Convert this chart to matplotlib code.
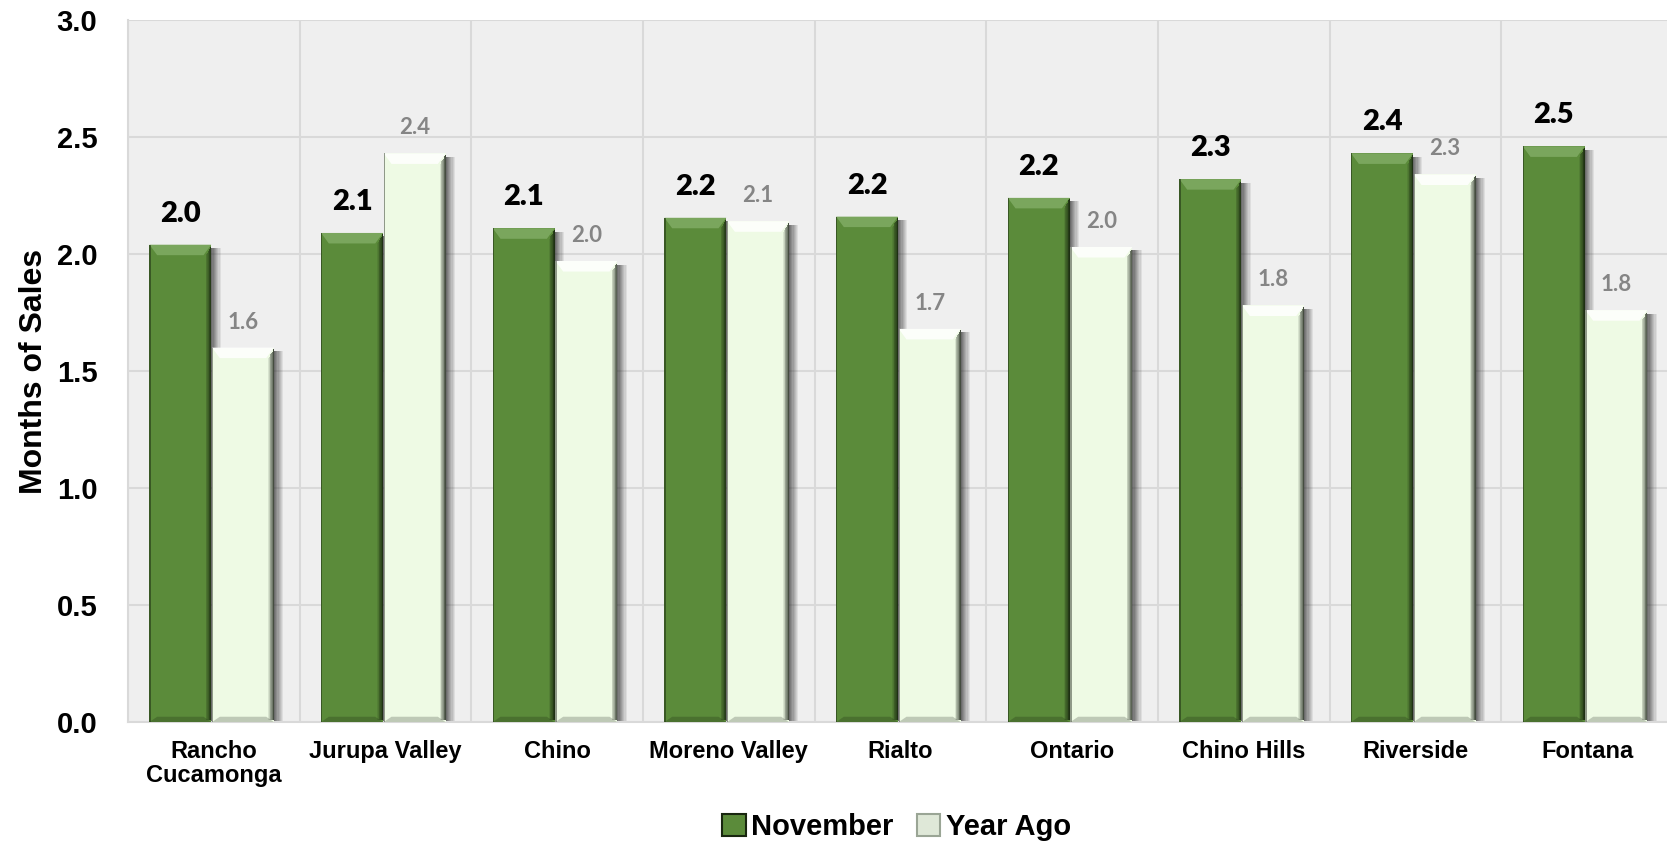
import numpy as np
import matplotlib
matplotlib.use("Agg")
import matplotlib.pyplot as plt
from matplotlib.patches import Polygon, Rectangle, Patch

# data
cities = ["Rancho\nCucamonga", "Jurupa Valley", "Chino", "Moreno Valley", "Rialto",
          "Ontario", "Chino Hills", "Riverside", "Fontana"]
november = [2.04, 2.09, 2.11, 2.155, 2.16, 2.24, 2.32, 2.43, 2.46]
year_ago = [1.60, 2.43, 1.97, 2.14, 1.68, 2.03, 1.78, 2.34, 1.76]
yticks = [0.0, 0.5, 1.0, 1.5, 2.0, 2.5, 3.0]

GREEN = "#5b8b3a"
GREEN_TOP = "#80ab64"
GREEN_DARK = "#18260f"
LIGHT = "#eefae4"
LIGHT_TOP = "#ffffff"
LIGHT_DARK = "#323a2e"
BG = "#efefef"
GRID = "#d9d9d9"

fig = plt.figure(figsize=(16.67, 8.46), dpi=100)
ax = fig.add_axes([128/1667, 124/846, 1545/1667, 702/846])
ax.set_facecolor(BG)

x = np.arange(len(cities))
w = 0.36


def bevel(bars, top, dark):
    # fake the excel bevel: lit top face, dark right edge, soft shadow
    dx, dy = 0.045, 0.045
    for b in bars:
        x0 = b.get_x()
        x1 = x0 + b.get_width()
        h = b.get_height()
        ax.add_patch(Polygon([(x0, h), (x1, h), (x1 - dx, h - dy), (x0 + dx, h - dy)],
                             closed=True, facecolor=top, edgecolor="none", alpha=0.85, zorder=4))
        n = 8
        # dark gradient inside the right edge
        for k in range(n):
            xs = x1 - 0.032 * (k + 1) / n
            ax.add_patch(Rectangle((xs, 0.01), 0.032 / n, h - 0.01 - dy * (k + 1) / n,
                                   facecolor=dark, edgecolor="none",
                                   alpha=0.9 * (n - k) / n, zorder=4))
        # soft shadow outside the right edge
        for k in range(n):
            xs = x1 + 0.055 * k / n
            ax.add_patch(Rectangle((xs, 0), 0.055 / n, h - 0.015,
                                   facecolor="#333333", edgecolor="none",
                                   alpha=0.7 * (n - k) / n, zorder=2.5))
        # thin left edge
        ax.add_patch(Rectangle((x0, 0), 0.007, h, facecolor=dark, edgecolor="none",
                               alpha=0.5, zorder=4))
        # bottom bevel
        ax.add_patch(Polygon([(x0, 0), (x1, 0), (x1 - dx, dy * 0.5), (x0 + dx, dy * 0.5)],
                             closed=True, facecolor=dark, edgecolor="none", alpha=0.25, zorder=4))


b1 = ax.bar(x - 0.195, november, w, color=GREEN, zorder=3)
b2 = ax.bar(x + 0.17, year_ago, w, color=LIGHT, zorder=3.2)
bevel(b1, GREEN_TOP, GREEN_DARK)
bevel(b2, LIGHT_TOP, LIGHT_DARK)

for b, v in zip(b1, november):
    ax.annotate("%.1f" % v, (b.get_x() + b.get_width() / 2, v), xytext=(0, 16.5),
                textcoords="offset points", ha="center", va="baseline",
                fontsize=21, fontweight="heavy", family="Lato", color="black", zorder=6)
for b, v in zip(b2, year_ago):
    ax.annotate("%.1f" % v, (b.get_x() + b.get_width() / 2, v), xytext=(0, 13.7),
                textcoords="offset points", ha="center", va="baseline",
                fontsize=16, fontweight="bold", family="Lato", color="#858585", zorder=6)

ax.set_xlim(-0.5, len(cities) - 0.5)
ax.set_ylim(0, 3.0)
ax.set_yticks(yticks)
ax.set_yticklabels(["%.1f" % t for t in yticks], fontsize=21, fontweight="bold",
                   family="Liberation Sans")
ax.set_xticks(x)
ax.set_xticklabels(cities, fontsize=17, fontweight="bold", family="Liberation Sans",
                   linespacing=1.05)
ax.set_xticks(np.arange(len(cities) + 1) - 0.5, minor=True)
ax.tick_params(axis="y", length=0, pad=22)
ax.tick_params(axis="x", which="both", length=0, pad=13)
ax.grid(axis="y", color=GRID, linewidth=1.5, zorder=0)
ax.grid(axis="x", which="minor", color=GRID, linewidth=1.5, zorder=0)
ax.grid(axis="x", which="major", visible=False)
for s in ["top", "right"]:
    ax.spines[s].set_visible(False)
for s in ["left", "bottom"]:
    ax.spines[s].set_color(GRID)
    ax.spines[s].set_linewidth(1.5)

ax.set_ylabel("Months of Sales", fontsize=23, fontweight="bold", family="Liberation Sans")
ax.yaxis.set_label_coords(-0.0511, 0.5)

handles = [Patch(facecolor=GREEN, edgecolor=GREEN_DARK, linewidth=1.5),
           Patch(facecolor="#dfe8d8", edgecolor="#9aa595", linewidth=1.5)]
fig.legend(handles, ["November", "Year Ago"], loc="center", bbox_to_anchor=(0.538, 0.022),
           ncol=2, frameon=False, handlelength=0.8, handleheight=0.8, handletextpad=0.2,
           columnspacing=0.8, prop={"family": "Liberation Sans", "weight": "bold", "size": 21})

fig.savefig("out.png", dpi=100)
